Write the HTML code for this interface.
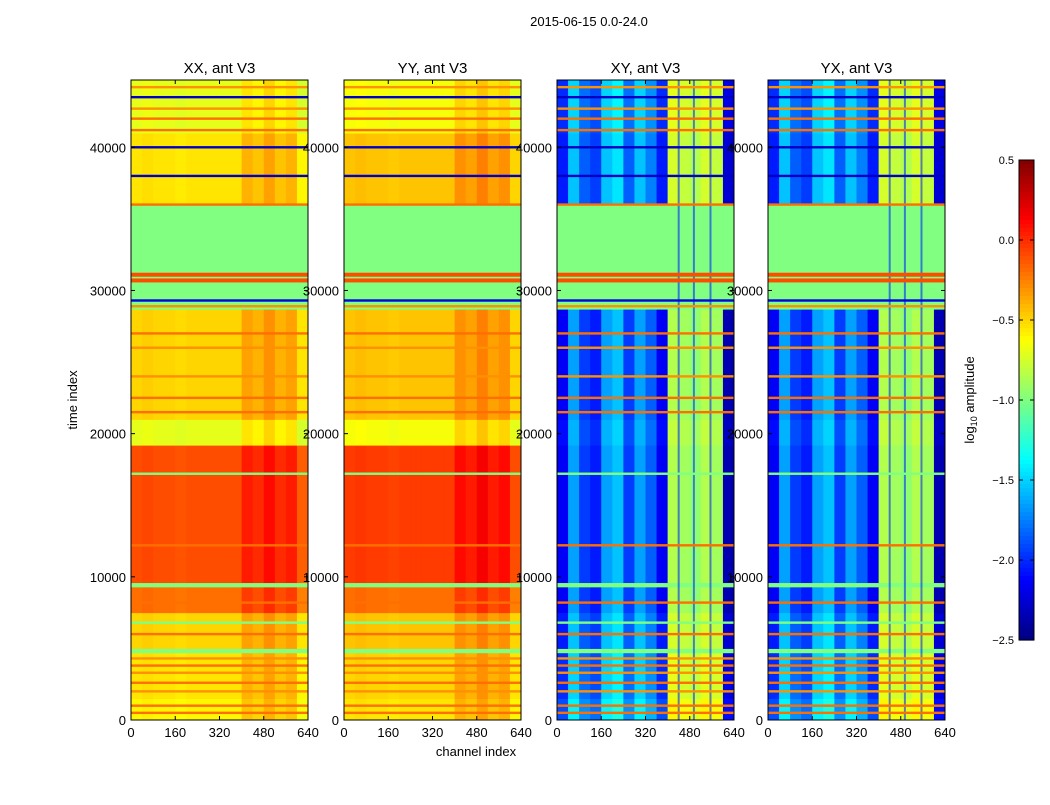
<!DOCTYPE html>
<html><head><meta charset="utf-8"><style>
body{margin:0;background:#fff;}
svg text{font-family:"Liberation Sans","DejaVu Sans",sans-serif;fill:#000;}
</style></head><body>
<svg id="fig" width="1050" height="800" viewBox="0 0 1050 800" xmlns="http://www.w3.org/2000/svg">
<rect width="1050" height="800" fill="#fff"/>
<text x="589" y="26" font-size="13" text-anchor="middle">2015-06-15 0.0-24.0</text>
<text x="0" y="0" font-size="13" text-anchor="middle" transform="translate(77,400) rotate(-90)">time index</text>
<text x="476" y="756" font-size="13" text-anchor="middle">channel index</text>
<g id="panels"></g>
<g id="cbar"></g>
<text x="0" y="0" font-size="13" text-anchor="middle" transform="translate(974,400) rotate(-90)">log<tspan font-size="9" dy="3">10</tspan><tspan dy="-3"> amplitude</tspan></text>
</svg>
<script>
const titles = ["XX, ant V3","YY, ant V3","XY, ant V3","YX, ant V3"];
const bandStart = [0,1500,4700,5000,7500,9300,9600,19200,21000,28700,30300,31500,36000,41000];
const tMax = 44700;
const valXX = [-0.6,-0.55,-1.0,-0.5,-0.2,-1.0,-0.1,-0.7,-0.5,-1.0,-1.0,-1.0,-0.55,-0.7];
const valYY = [-0.55,-0.5,-1.0,-0.45,-0.2,-1.0,-0.05,-0.65,-0.45,-1.0,-1.0,-1.0,-0.45,-0.65];
const valXY = [-1.6,-1.7,-1.0,-1.75,-1.85,-1.0,-1.85,-1.8,-1.85,-1.0,-1.0,-1.0,-1.75,-1.7];
const valYX = [-1.6,-1.7,-1.0,-1.75,-1.85,-1.0,-1.85,-1.8,-1.85,-1.0,-1.0,-1.0,-1.75,-1.7];
const flagged = [0,0,1,0,0,1,0,0,0,1,1,1,0,0];
const colBins = [0,40,80,120,160,200,240,280,320,360,400,440,480,520,560,600];
const diagCol = [0,0.02,0,0,-0.02,0,0,0,0,0,0.15,0.1,0.2,0.1,0.15,-0.05];
const crossCol = [-0.3,0.2,-0.1,-0.2,0.2,0.3,-0.1,0.2,0,-0.3,1.0,0.95,0.9,1.0,0.95,-0.5];
const blueLines = [440,495,555];
const stripeT = [500,1000,2000,2600,3300,3800,4300,6000,6800,8200,12200,17200,21500,22500,24000,26000,27000,28900,29300,30700,31100,36000,38000,40000,41200,42000,42700,43500,44200];
const stripeV = [-0.2,-0.2,-0.3,-0.2,-0.3,-0.2,-0.3,-0.2,-1.0,-0.2,-0.2,-1.0,-0.2,-0.2,-0.3,-0.3,-0.2,-0.3,-2.2,-0.1,-0.1,-0.2,-2.3,-2.3,-0.2,-0.2,-0.3,-2.3,-0.3];
const xTicks = [0,160,320,480,640];
const yTicks = [0,10000,20000,30000,40000];
const cbTicks = [0.5,0.0,-0.5,-1.0,-1.5,-2.0,-2.5];
const vmin=-2.5, vmax=0.5;
const panelX=[131,344,557,768], PW=177, PT=80, PB=720;
const NS="http://www.w3.org/2000/svg";
function jet(v){let t=(v-vmin)/(vmax-vmin);t=Math.max(0,Math.min(1,t));
 const f=x=>Math.round(255*Math.max(0,Math.min(1,x)));
 return `rgb(${f(1.5-Math.abs(4*t-3))},${f(1.5-Math.abs(4*t-2))},${f(1.5-Math.abs(4*t-1))})`;}
function el(tag,attrs,parent){const e=document.createElementNS(NS,tag);for(const k in attrs)e.setAttribute(k,attrs[k]);parent.appendChild(e);return e;}
const panels=document.getElementById('panels');
const vals=[valXX,valYY,valXY,valYX];
for(let p=0;p<4;p++){
 const x0=panelX[p];
 const sx=c=>x0+c/640*PW;
 const sy=t=>PB-t/tMax*(PB-PT);
 const g=el('g',{},panels);
 
 
 const cols=p<2?diagCol:crossCol;
 for(let b=0;b<bandStart.length;b++){
  const t0=bandStart[b],t1=b+1<bandStart.length?bandStart[b+1]:tMax;
  for(let c=0;c<colBins.length;c++){
   const c0=colBins[c],c1=c+1<colBins.length?colBins[c+1]:640;
   const v=flagged[b]?vals[p][b]:vals[p][b]+cols[c];
   const r=el('rect',{x:sx(c0),y:sy(t1),width:sx(c1)-sx(c0)+0.5,height:sy(t0)-sy(t1)+0.5,fill:jet(v)},g);
   
   
  }
 }
 if(p>=2){
  for(let i=0;i<blueLines.length;i++){
   const r=el('rect',{x:sx(blueLines[i])-1,y:sy(tMax),width:2,height:PB-PT,fill:jet(-2.0),opacity:0.6},g);
   
   
  }
 }
 for(let i=0;i<stripeT.length;i++){
  const h=(stripeV[i]>-0.15)?4:2.4;
  const r=el('rect',{x:x0,y:sy(stripeT[i])-h/2,width:PW,height:h,fill:jet(stripeV[i])},g);
  
  
 }
 el('rect',{x:x0,y:PT,width:PW,height:PB-PT,fill:'none',stroke:'#000','stroke-width':1},g);
 const tt=el('text',{x:x0+PW/2,y:PT-7,'font-size':15,'text-anchor':'middle'},g);
 tt.textContent=titles[p];
 
 
 for(const v of xTicks){const x=sx(v);
  el('line',{x1:x,x2:x,y1:PB,y2:PB-4,stroke:'#000'},g);
  el('line',{x1:x,x2:x,y1:PT,y2:PT+4,stroke:'#000'},g);
  const t=el('text',{x:x,y:PB+17,'font-size':13,'text-anchor':'middle'},g);t.textContent=v;
  
  }
 for(const v of yTicks){const y=sy(v);
  el('line',{x1:x0,x2:x0+4,y1:y,y2:y,stroke:'#000'},g);
  el('line',{x1:x0+PW,x2:x0+PW-4,y1:y,y2:y,stroke:'#000'},g);
  const t=el('text',{x:x0-5,y:y+5,'font-size':13,'text-anchor':'end'},g);t.textContent=v;
  
  }
}
const cb=document.getElementById('cbar');


const CX=1019,CW=15,CT=160,CB=640;
for(let i=0;i<120;i++){const v=vmax-(i+0.5)/120*(vmax-vmin);
 el('rect',{x:CX,y:CT+i*(CB-CT)/120,width:CW,height:(CB-CT)/120+0.6,fill:jet(v)},cb);}
el('rect',{x:CX,y:CT,width:CW,height:CB-CT,fill:'none',stroke:'#000'},cb);
for(const v of cbTicks){const y=CT+(vmax-v)/(vmax-vmin)*(CB-CT);
 el('line',{x1:CX,x2:CX+4,y1:y,y2:y,stroke:'#000'},cb);
 el('line',{x1:CX+CW,x2:CX+CW-4,y1:y,y2:y,stroke:'#000'},cb);
 const t=el('text',{x:1014,y:y+4,'font-size':11,'text-anchor':'end'},cb);
 t.textContent=(v<0?'\u2212':'')+Math.abs(v).toFixed(1);
 
 }
</script>
</body></html>
